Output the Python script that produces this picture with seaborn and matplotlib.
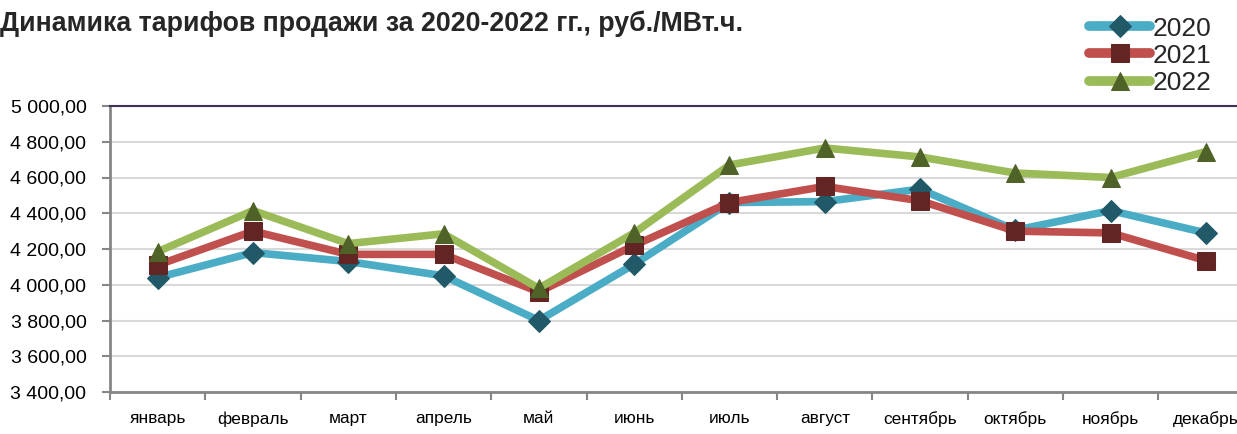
import matplotlib
matplotlib.use("Agg")
import matplotlib.pyplot as plt
import seaborn as sns
import pandas as pd
import numpy as np
from matplotlib.ticker import FuncFormatter, FixedLocator

months = ["январь", "февраль", "март", "апрель", "май", "июнь", "июль",
          "август", "сентябрь", "октябрь", "ноябрь", "декабрь"]
v2020 = [4040, 4180, 4130, 4050, 3800, 4115, 4460, 4465, 4535, 4305, 4415, 4290]
v2021 = [4110, 4300, 4170, 4170, 3960, 4220, 4460, 4550, 4470, 4300, 4290, 4135]
v2022 = [4185, 4415, 4230, 4285, 3980, 4290, 4670, 4765, 4715, 4625, 4600, 4745]
years = ["2020", "2021", "2022"]
title = "Динамика тарифов продажи за 2020-2022 гг., руб./МВт.ч."

sns.set_theme(style="white")
plt.rcParams['font.family'] = ['Liberation Sans', 'DejaVu Sans']

df = pd.DataFrame({
    "month": months * 3,
    "x": list(range(12)) * 3,
    "value": v2020 + v2021 + v2022,
    "year": [y for y in years for _ in months],
})

line_colors = {"2020": "#4BACC6", "2021": "#C0504D", "2022": "#9BBB59"}
mark_colors = {"2020": "#215968", "2021": "#632523", "2022": "#4F6228"}
markers = {"2020": "D", "2021": "s", "2022": "^"}
msizes = {"2020": 11, "2021": 13, "2022": 13}

fig = plt.figure(figsize=(12.37, 4.34), dpi=100)
ax = fig.add_axes([110/1237, 1 - 392/434, 12*95.3/1237, (392-106)/434])

for y in years:
    sub = df[df["year"] == y]
    sns.lineplot(data=sub, x="x", y="value", ax=ax, color=line_colors[y],
                 linewidth=5.5, marker=markers[y], markersize=msizes[y],
                 markerfacecolor=mark_colors[y], markeredgecolor=mark_colors[y],
                 label=y, solid_capstyle="round", zorder=3)

ax.set_xlim(-0.5, 11.5)
ax.set_ylim(3400, 5000)
ax.set_yticks(np.arange(3400, 5001, 200))
ax.yaxis.set_major_formatter(FuncFormatter(
    lambda v, p: f"{int(v):,}".replace(",", " ") + ",00"))
ax.set_xticks(range(12))
ax.set_xticklabels(months)
ax.xaxis.set_minor_locator(FixedLocator(np.arange(-0.5, 12, 1)))
ax.tick_params(axis="x", which="major", length=0, pad=14, labelsize=12.4, labelcolor="#000000")
ax.tick_params(axis="x", which="minor", length=6, width=1.5, color="#868686", bottom=True)
ax.tick_params(axis="y", length=6, width=1.5, color="#868686", left=True, labelsize=14,
               labelcolor="#000000", pad=11)
ax.set_xlabel("")
ax.set_ylabel("")
ax.grid(axis="y", color="#D9D9D9", linewidth=1.5)
ax.set_axisbelow(True)
for s in ["left", "bottom"]:
    ax.spines[s].set_color("#868686")
    ax.spines[s].set_linewidth(2)
ax.spines["top"].set_color("#3F3151")
ax.spines["top"].set_linewidth(1.5)
ax.spines["right"].set_visible(False)

handles, labels = ax.get_legend_handles_labels()
if ax.legend_:
    ax.legend_.remove()
leg = fig.legend(handles, labels, loc="upper right", bbox_to_anchor=(1222/1237, 1 - 6/434),
                 frameon=False, fontsize=19, handlelength=2.3, handletextpad=0.1,
                 labelspacing=0.12, borderaxespad=0)
for h in leg.get_lines():
    h.set_linewidth(7)

fig.text(0.0, 1 - 24/434, title, fontsize=19.3, fontweight="bold", va="center", ha="left")

fig.savefig("out.png", dpi=100)
